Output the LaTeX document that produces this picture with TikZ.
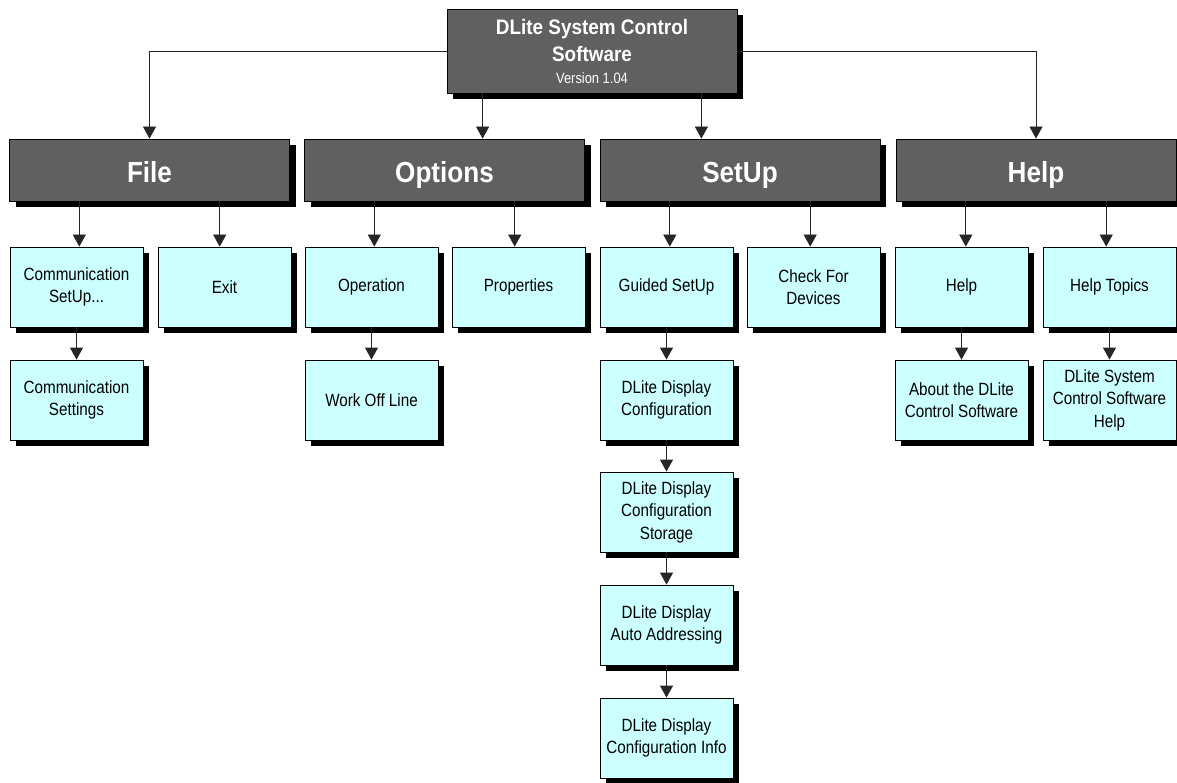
\documentclass[tikz,border=0pt]{standalone}
\usepackage{fontspec}
\setmainfont{Liberation Sans}[FakeStretch=0.86]
\newfontfamily\bnarrow{Liberation Sans}[FakeStretch=0.9]
\usetikzlibrary{arrows.meta,shadows,calc}
\definecolor{hdr}{RGB}{96,96,96}
\definecolor{leaf}{RGB}{204,255,255}
\begin{document}
\begin{tikzpicture}[x=1pt,y=-1pt,
  box/.style={draw=black, line width=0.8pt, inner sep=0pt, align=center,
    drop shadow={shadow xshift=6pt, shadow yshift=-6pt, fill=black, opacity=1}},
  leafbox/.style={box, fill=leaf, minimum width=133pt, minimum height=80pt,
    font=\fontsize{17.7}{22.5}\selectfont},
  hdrbox/.style={box, fill=hdr, text=white, minimum width=280pt, minimum height=62pt,
    text height=26pt, text depth=0pt,
    font=\bnarrow\bfseries\fontsize{29}{34}\selectfont},
  topbox/.style={box, fill=hdr, text=white, minimum width=290pt, minimum height=84pt,
    font=\bnarrow\bfseries\fontsize{21}{27.5}\selectfont},
  conn/.style={draw=black!85, line width=0.8pt, -{Triangle[length=12pt,width=13pt]}}
]
\useasboundingbox (0,0) rectangle (1177,783);
% top
\node[topbox] (top) at (592,51) {DLite System Control\\Software\\[-6pt]{\normalfont\fontsize{15}{18}\selectfont Version 1.04}};
% headers
\node[hdrbox] (file) at (149.5,170) {File};
\node[hdrbox] (options) at (444.5,170) {Options};
\node[hdrbox] (setup) at (740,170) {SetUp};
\node[hdrbox] (help) at (1036,170) {Help};
% row 1
\node[leafbox] (comm) at (76.5,287) {Communication\\SetUp...};
\node[leafbox] (exit) at (224.5,287) {Exit};
\node[leafbox] (oper) at (371.5,287) {Operation};
\node[leafbox] (prop) at (518.5,287) {Properties};
\node[leafbox] (guided) at (666.5,287) {Guided SetUp};
\node[leafbox] (check) at (813.5,287) {Check For\\Devices};
\node[leafbox] (helpi) at (961.5,287) {Help};
\node[leafbox] (topics) at (1109.5,287) {Help Topics};
% row 2
\node[leafbox] (commset) at (76.5,400) {Communication\\Settings};
\node[leafbox] (offline) at (371.5,400) {Work Off Line};
\node[leafbox] (dconf) at (666.5,400) {DLite Display\\Configuration};
\node[leafbox] (about) at (961.5,400) {About the DLite\\Control Software};
\node[leafbox] (syshelp) at (1109.5,400) {DLite System\\Control Software\\Help};
% setup chain
\node[leafbox] (dstore) at (666.5,512) {DLite Display\\Configuration\\Storage};
\node[leafbox] (dauto) at (666.5,625) {DLite Display\\Auto Addressing};
\node[leafbox] (dinfo) at (666.5,738) {DLite Display\\Configuration Info};
% connectors from top
\draw[conn] (top.west) -| (file.north);
\draw[conn] (top.east) -| (help.north);
\draw[conn] ([xshift=36pt]top.south west) coordinate (t1) -- (t1 |- options.north);
\draw[conn] ([xshift=-36pt]top.south east) coordinate (t2) -- (t2 |- setup.north);
% header to row 1
\draw[conn] ($(file.south west)!.25!(file.south east)$) coordinate (a1) -- (a1 |- comm.north);
\draw[conn] ($(file.south west)!.75!(file.south east)$) coordinate (a2) -- (a2 |- exit.north);
\draw[conn] ($(options.south west)!.25!(options.south east)$) coordinate (a3) -- (a3 |- oper.north);
\draw[conn] ($(options.south west)!.75!(options.south east)$) coordinate (a4) -- (a4 |- prop.north);
\draw[conn] ($(setup.south west)!.25!(setup.south east)$) coordinate (a5) -- (a5 |- guided.north);
\draw[conn] ($(setup.south west)!.75!(setup.south east)$) coordinate (a6) -- (a6 |- check.north);
\draw[conn] ($(help.south west)!.25!(help.south east)$) coordinate (a7) -- (a7 |- helpi.north);
\draw[conn] ($(help.south west)!.75!(help.south east)$) coordinate (a8) -- (a8 |- topics.north);
% lower levels
\draw[conn] (comm.south) -- (commset.north);
\draw[conn] (oper.south) -- (offline.north);
\draw[conn] (guided.south) -- (dconf.north);
\draw[conn] (helpi.south) -- (about.north);
\draw[conn] (topics.south) -- (syshelp.north);
\draw[conn] (dconf.south) -- (dstore.north);
\draw[conn] (dstore.south) -- (dauto.north);
\draw[conn] (dauto.south) -- (dinfo.north);
\end{tikzpicture}
\end{document}
